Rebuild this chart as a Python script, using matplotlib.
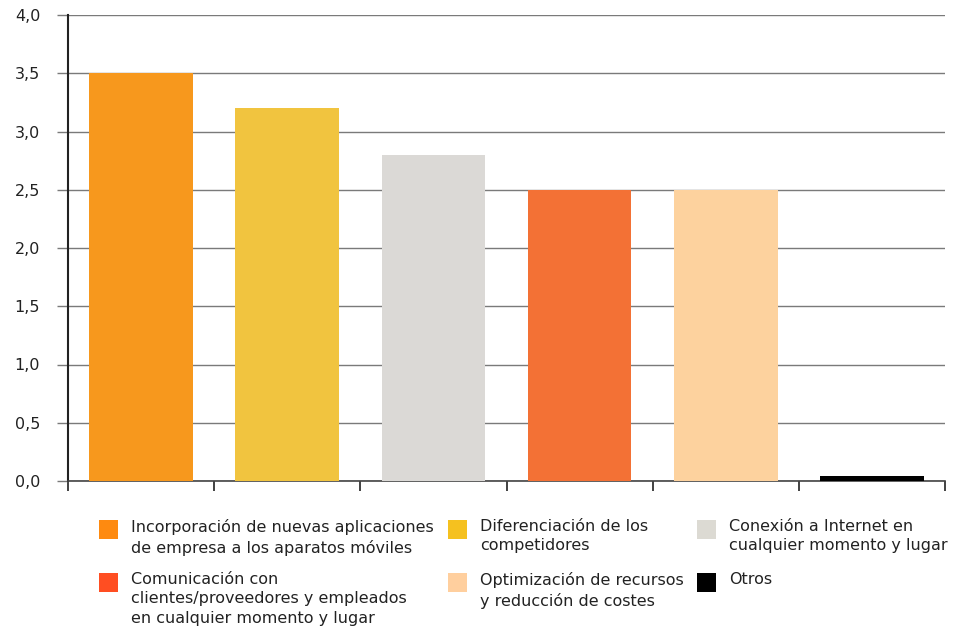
import matplotlib
matplotlib.use("Agg")
import matplotlib.pyplot as plt
from matplotlib.patches import Rectangle

plt.rcParams["font.family"] = ["DejaVu Sans"]

categories = [
    "Incorporación de nuevas aplicaciones\nde empresa a los aparatos móviles",
    "Diferenciación de los\ncompetidores",
    "Conexión a Internet en\ncualquier momento y lugar",
    "Comunicación con\nclientes/proveedores y empleados\nen cualquier momento y lugar",
    "Optimización de recursos\ny reducción de costes",
    "Otros",
]
values = [3.5, 3.2, 2.8, 2.5, 2.5, 0.04]
bar_colors = ["#F7981D", "#F1C43F", "#DBD9D6", "#F37135", "#FDD29E", "#000000"]
legend_colors = ["#FE8A10", "#F5C11F", "#DCDAD3", "#FF4E22", "#FFCF9E", "#000000"]
yticks = [0.0, 0.5, 1.0, 1.5, 2.0, 2.5, 3.0, 3.5, 4.0]
ytick_labels = [f"{v:.1f}".replace(".", ",") for v in yticks]

W, H = 959, 630
fig = plt.figure(figsize=(W / 100, H / 100), dpi=100)
ax = fig.add_axes([68 / W, 1 - 481 / H, (945 - 68) / W, (481 - 15) / H])

x = [i + 0.5 for i in range(len(values))]
ax.bar(x, values, width=0.71, color=bar_colors, zorder=3)

ax.set_xlim(0, len(values))
ax.set_ylim(0, 4.0)
ax.set_yticks(yticks)
ax.set_yticklabels(ytick_labels, fontsize=11.5, color="#222222")
ax.set_xticks(range(len(values) + 1))
ax.set_xticklabels([])

ax.grid(axis="y", color="#7a7a7a", linewidth=1.0, zorder=1)
ax.tick_params(axis="y", direction="out", length=8, width=1.0, color="#7a7a7a", pad=12)
ax.tick_params(axis="x", direction="out", length=7.5, width=1.3, color="#333333")

for s in ("top", "right"):
    ax.spines[s].set_visible(False)
ax.spines["left"].set_color("#222222")
ax.spines["left"].set_linewidth(1.5)
ax.spines["left"].set_bounds(0, 4.0)
ax.spines["bottom"].set_color("#444444")
ax.spines["bottom"].set_linewidth(1.2)

# legend drawn as a 3-column block below the axes
col_x = [99, 448, 697]
row_y = [520, 573]
sq = 19
for i, (label, color) in enumerate(zip(categories, legend_colors)):
    cx = col_x[i % 3]
    ry = row_y[i // 3]
    fig.patches.append(Rectangle((cx / W, 1 - (ry + sq) / H), sq / W, sq / H,
                                 transform=fig.transFigure, facecolor=color,
                                 edgecolor="none"))
    fig.text((cx + 32) / W, 1 - (ry - 1) / H, label, fontsize=11.5, color="#222222",
             va="top", ha="left", linespacing=1.36)

fig.savefig("out.png", dpi=100)
